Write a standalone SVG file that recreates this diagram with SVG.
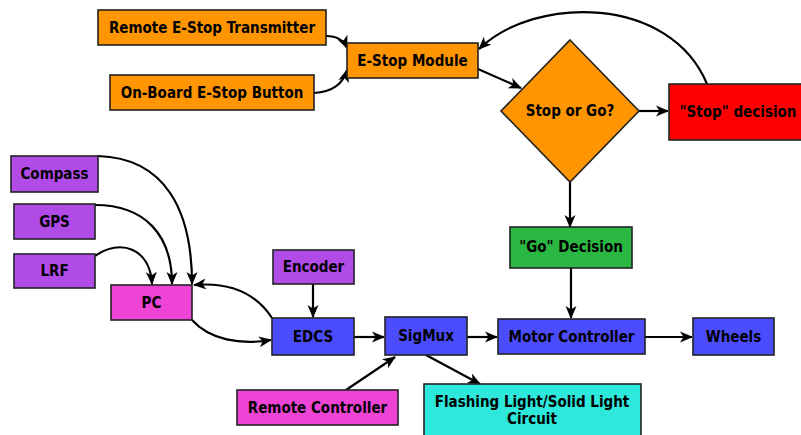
<svg xmlns="http://www.w3.org/2000/svg" width="801" height="435" viewBox="0 0 801 435">
<defs>
<marker id="ah" viewBox="0 0 13 12" refX="12" refY="6" markerWidth="13" markerHeight="12" markerUnits="userSpaceOnUse" orient="auto">
<path d="M0,0.5 L13,6 L0,11.5 L3.5,6 Z" fill="#000"/>
</marker>
</defs>
<style>
.b{stroke:#222;stroke-width:1.6}
.t{font-family:"DejaVu Sans Condensed","DejaVu Sans",sans-serif;font-stretch:condensed;font-weight:bold;font-size:15px;text-anchor:middle;dominant-baseline:central;fill:#000}
.c{fill:none;stroke:#000;stroke-width:2.2;marker-end:url(#ah)}
.or{fill:#ff9500}.pu{fill:#b14be8}.mg{fill:#ee44d6}.bl{fill:#4c4cff}
</style>
<rect width="801" height="435" fill="#fff"/>
<g id="connectors">
<path class="c" d="M326,36 C338,36 344,41 347,48"/>
<path class="c" d="M314,93 C332,92 343,84 347,70"/>
<path class="c" d="M478,69 L521,88"/>
<path class="c" d="M707,84 C670,-5 535,-5 479,49"/>
<path class="c" d="M639,111 L668,111"/>
<path class="c" d="M570,182 L570,227"/>
<path class="c" d="M571,268 L571,318"/>
<path class="c" d="M98,156 C165,158 192,210 192,284"/>
<path class="c" d="M95,205 C145,205 172,235 172,284"/>
<path class="c" d="M95,256 C120,238 150,248 152,284"/>
<path class="c" d="M272,318 C255,292 228,282 194,285"/>
<path class="c" d="M192,320 C210,340 240,345 271,340"/>
<path class="c" d="M313,284 L313,317"/>
<path class="c" d="M354,337 L384,337"/>
<path class="c" d="M467,337 L497,337"/>
<path class="c" d="M645,337 L692,337"/>
<path class="c" d="M346,390 L395,357"/>
<path class="c" d="M426,355 L480,384"/>
</g>
<g id="remote-estop"><rect class="b or" x="98" y="10" width="228" height="35"/><text class="t" x="212" y="27.5">Remote E-Stop Transmitter</text></g>
<g id="onboard-estop"><rect class="b or" x="110" y="75" width="204" height="35"/><text class="t" x="212" y="92.5">On-Board E-Stop Button</text></g>
<g id="estop-module"><rect class="b or" x="347" y="43" width="131" height="35"/><text class="t" x="412.5" y="60.5">E-Stop Module</text></g>
<g id="stop-or-go"><polygon class="b or" points="570,40 639,111 570,182 501,111"/><text class="t" x="570" y="111">Stop or Go?</text></g>
<g id="stop-decision"><rect class="b" fill="#ff0000" x="669" y="84" width="140" height="56"/><text class="t" x="738" y="112">"Stop" decision</text></g>
<g id="go-decision"><rect class="b" fill="#2bb842" x="510" y="227" width="122" height="41"/><text class="t" x="571" y="247">"Go" Decision</text></g>
<g id="compass"><rect class="b pu" x="11" y="156" width="87" height="36"/><text class="t" x="54.5" y="174">Compass</text></g>
<g id="gps"><rect class="b pu" x="14" y="204" width="81" height="35"/><text class="t" x="54.5" y="221.5">GPS</text></g>
<g id="lrf"><rect class="b pu" x="14" y="254" width="81" height="34"/><text class="t" x="54.5" y="271">LRF</text></g>
<g id="pc"><rect class="b mg" x="111" y="285" width="81" height="35"/><text class="t" x="151.5" y="302.5">PC</text></g>
<g id="encoder"><rect class="b pu" x="273" y="250" width="81" height="34"/><text class="t" x="313.5" y="267">Encoder</text></g>
<g id="edcs"><rect class="b bl" x="272" y="318" width="82" height="37"/><text class="t" x="313" y="336.5">EDCS</text></g>
<g id="sigmux"><rect class="b bl" x="385" y="317" width="82" height="38"/><text class="t" x="426" y="336">SigMux</text></g>
<g id="motor-controller"><rect class="b bl" x="498" y="319" width="147" height="35"/><text class="t" x="571.5" y="336.5">Motor Controller</text></g>
<g id="wheels"><rect class="b bl" x="693" y="318" width="81" height="37"/><text class="t" x="733.5" y="336.5">Wheels</text></g>
<g id="remote-controller"><rect class="b mg" x="237" y="390" width="161" height="35"/><text class="t" x="317.5" y="407.5">Remote Controller</text></g>
<g id="flashing-light"><rect class="b" fill="#2de8db" x="424" y="384" width="217" height="60"/><text class="t" x="532" y="402">Flashing Light/Solid Light</text><text class="t" x="532" y="419">Circuit</text></g>
</svg>
